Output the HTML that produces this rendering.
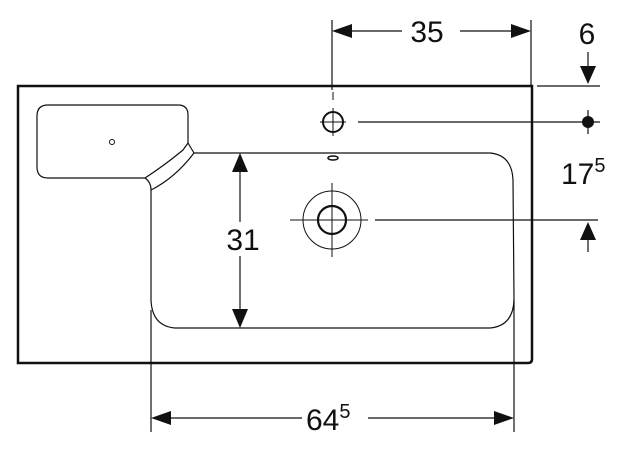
<!DOCTYPE html>
<html><head><style>body{margin:0;background:#fff}svg{display:block}text{font-family:"Liberation Sans",sans-serif;fill:#111}</style></head>
<body>
<svg width="632" height="452" viewBox="0 0 632 452" xmlns="http://www.w3.org/2000/svg" stroke="#111" fill="none">
<!-- outer -->
<path d="M18 86 H532 V359 Q532 363 528 363 H18 Z" stroke-width="2.5"/>
<!-- small basin -->
<path d="M48 105 H178 Q188 105 188 115 V143 L183 150 Q165 165 145 178 H48 Q37 178 37 167 V116 Q37 105 48 105 Z" stroke-width="1.2"/>
<path d="M188 143 L194 153" stroke-width="1.2"/>
<path d="M145 178 Q151 182 151 190" stroke-width="1.2"/>
<path d="M194 153 Q175 178 151 190" stroke-width="1.2"/>
<circle cx="112" cy="142" r="2.5" stroke-width="1"/>
<!-- bowl -->
<path d="M194 153 H490 Q512 155 513 180 L514 300 Q513 326 490 328 H175 Q152 326 151 300 V190" stroke-width="1.2"/>
<!-- tap hole -->
<circle cx="333" cy="122" r="10" stroke-width="2"/>
<path d="M320 122 H346 M333 108 V136 M333 92 V100" stroke-width="1"/>
<ellipse cx="333" cy="158" rx="5" ry="2" stroke-width="1.5"/>
<!-- drain -->
<circle cx="332" cy="220" r="29" stroke-width="1"/>
<circle cx="332" cy="220" r="14" stroke-width="2.2"/>
<path d="M290 220 H368 M332 183 V257" stroke-width="1"/>
<!-- dimension lines -->
<path d="M332 20 V90 M531 20 V86" stroke-width="1.2"/>
<path d="M350 31 H402 M460 31 H512" stroke-width="1.2"/>
<path d="M332 31 L352 24 V38 Z M531 31 L511 24 V38 Z" fill="#111" stroke="none"/>
<text x="427" y="42" font-size="30" text-anchor="middle" stroke="none">35</text>
<text x="587" y="44" font-size="30" text-anchor="middle" stroke="none">6</text>
<path d="M588 52 V70" stroke-width="1.2"/>
<path d="M588 84 L580 66 H596 Z" fill="#111" stroke="none"/>
<path d="M537 86 H600" stroke-width="1.2"/>
<path d="M358 122 H600" stroke-width="1.2"/>
<circle cx="588" cy="122" r="6" fill="#111" stroke="none"/>
<path d="M588 110 V134" stroke-width="1.2"/>
<text x="561" y="184" font-size="30" stroke="none">17<tspan font-size="20" dy="-12">5</tspan></text>
<path d="M375 220 H598" stroke-width="1.2"/>
<path d="M588 222 L580 240 H596 Z" fill="#111" stroke="none"/>
<path d="M588 238 V252" stroke-width="1.2"/>
<!-- 31 -->
<path d="M240 170 V312" stroke-width="1.2"/>
<path d="M240 153 L232 172 H248 Z M240 328 L232 309 H248 Z" fill="#111" stroke="none"/>
<rect x="216" y="222" width="48" height="34" fill="#fff" stroke="none"/>
<text x="243" y="250" font-size="30" text-anchor="middle" stroke="none">31</text>
<!-- 64.5 -->
<path d="M151 310 V432 M514 300 V432" stroke-width="1.2"/>
<path d="M168 418 H302 M368 418 H497" stroke-width="1.2"/>
<path d="M151 418 L171 411 V425 Z M514 418 L494 411 V425 Z" fill="#111" stroke="none"/>
<text x="306" y="430" font-size="30" stroke="none">64<tspan font-size="20" dy="-12">5</tspan></text>
</svg>
</body></html>
